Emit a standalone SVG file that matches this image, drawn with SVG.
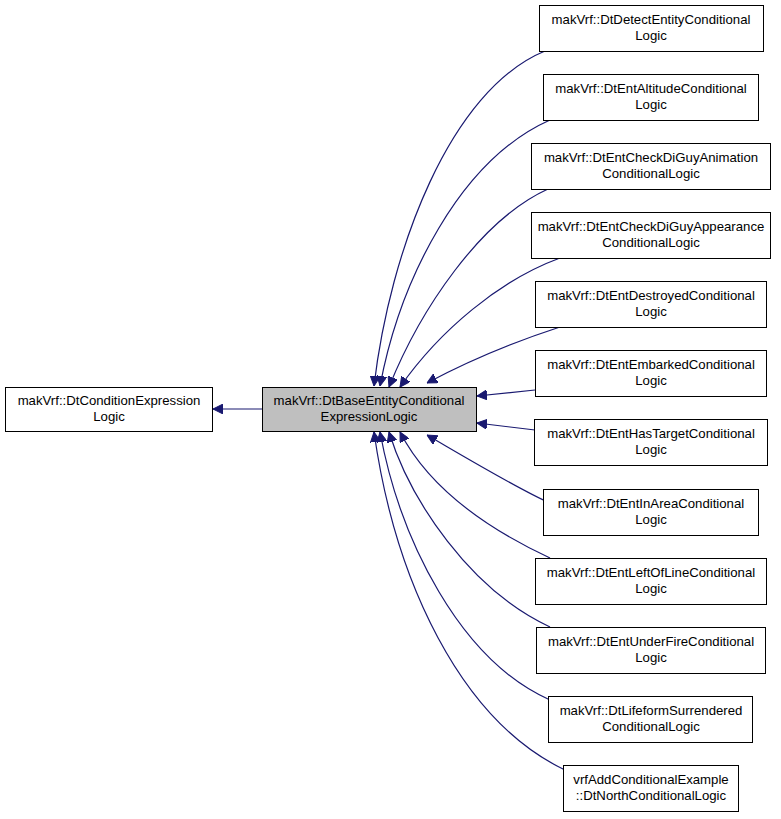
<svg xmlns="http://www.w3.org/2000/svg" width="781" height="819" viewBox="0 0 781 819">
<defs>
<marker id="a" viewBox="0 0 10 10" refX="10" refY="5" markerWidth="10" markerHeight="10" markerUnits="userSpaceOnUse" orient="auto"><path d="M0,0L10,5L0,10z" fill="#191970" stroke="#191970"/></marker>
<style>
.n{fill:#fff;stroke:#000;stroke-width:1}
text{font-family:"Liberation Sans",Arial,sans-serif;font-size:13.2px;text-anchor:middle}
#edges path{fill:none;stroke:#191970;stroke-width:1.2;marker-end:url(#a)}
</style>
</defs>
<rect width="781" height="819" fill="#fff"/>
<g id="edges">
<path d="M262,409H213"/>
<path d="M545,51C450,90 390,250 374,386"/>
<path d="M550,120C460,160 400,280 380,386"/>
<path d="M548,189C480,220 420,310 389,387"/>
<path d="M560,258C500,280 440,330 400,387"/>
<path d="M560,327C520,340 470,360 427,383"/>
<path d="M535,390L477,396"/>
<path d="M535,430L477,423"/>
<path d="M550,503C520,490 470,460 427,435"/>
<path d="M550,558C490,530 430,490 400,432"/>
<path d="M550,627C470,590 410,500 389,432"/>
<path d="M550,700C460,660 400,540 380,432"/>
<path d="M565,770C460,720 395,580 374,432"/>
</g>
<g id="n0"><rect class="n" x="5.5" y="387.5" width="207" height="44"/><text x="109" y="405">makVrf::DtConditionExpression</text><text x="109" y="421">Logic</text></g>
<g id="n1"><rect class="n" x="262.5" y="387.5" width="214" height="44" style="fill:#bfbfbf"/><text x="369" y="405">makVrf::DtBaseEntityConditional</text><text x="369" y="421">ExpressionLogic</text></g>
<g id="r1"><rect class="n" x="539.5" y="5.5" width="224" height="46"/><text x="651" y="24">makVrf::DtDetectEntityConditional</text><text x="651" y="40">Logic</text></g>
<g id="r2"><rect class="n" x="543.5" y="74.5" width="215" height="46"/><text x="651" y="93">makVrf::DtEntAltitudeConditional</text><text x="651" y="109">Logic</text></g>
<g id="r3"><rect class="n" x="531.5" y="143.5" width="239" height="46"/><text x="651" y="162">makVrf::DtEntCheckDiGuyAnimation</text><text x="651" y="178">ConditionalLogic</text></g>
<g id="r4"><rect class="n" x="531.5" y="212.5" width="239" height="46"/><text x="651" y="231">makVrf::DtEntCheckDiGuyAppearance</text><text x="651" y="247">ConditionalLogic</text></g>
<g id="r5"><rect class="n" x="535.5" y="281.5" width="231" height="46"/><text x="651" y="300">makVrf::DtEntDestroyedConditional</text><text x="651" y="316">Logic</text></g>
<g id="r6"><rect class="n" x="535.5" y="350.5" width="231" height="46"/><text x="651" y="369">makVrf::DtEntEmbarkedConditional</text><text x="651" y="385">Logic</text></g>
<g id="r7"><rect class="n" x="534.5" y="419.5" width="233" height="46"/><text x="651" y="438">makVrf::DtEntHasTargetConditional</text><text x="651" y="454">Logic</text></g>
<g id="r8"><rect class="n" x="543.5" y="489.5" width="215" height="46"/><text x="651" y="508">makVrf::DtEntInAreaConditional</text><text x="651" y="524">Logic</text></g>
<g id="r9"><rect class="n" x="535.5" y="558.5" width="231" height="46"/><text x="651" y="577">makVrf::DtEntLeftOfLineConditional</text><text x="651" y="593">Logic</text></g>
<g id="r10"><rect class="n" x="536.5" y="627.5" width="229" height="46"/><text x="651" y="646">makVrf::DtEntUnderFireConditional</text><text x="651" y="662">Logic</text></g>
<g id="r11"><rect class="n" x="548.5" y="696.5" width="204" height="46"/><text x="651" y="715">makVrf::DtLifeformSurrendered</text><text x="651" y="731">ConditionalLogic</text></g>
<g id="r12"><rect class="n" x="563.5" y="765.5" width="175" height="46"/><text x="651" y="784">vrfAddConditionalExample</text><text x="651" y="800">::DtNorthConditionalLogic</text></g>
</svg>
